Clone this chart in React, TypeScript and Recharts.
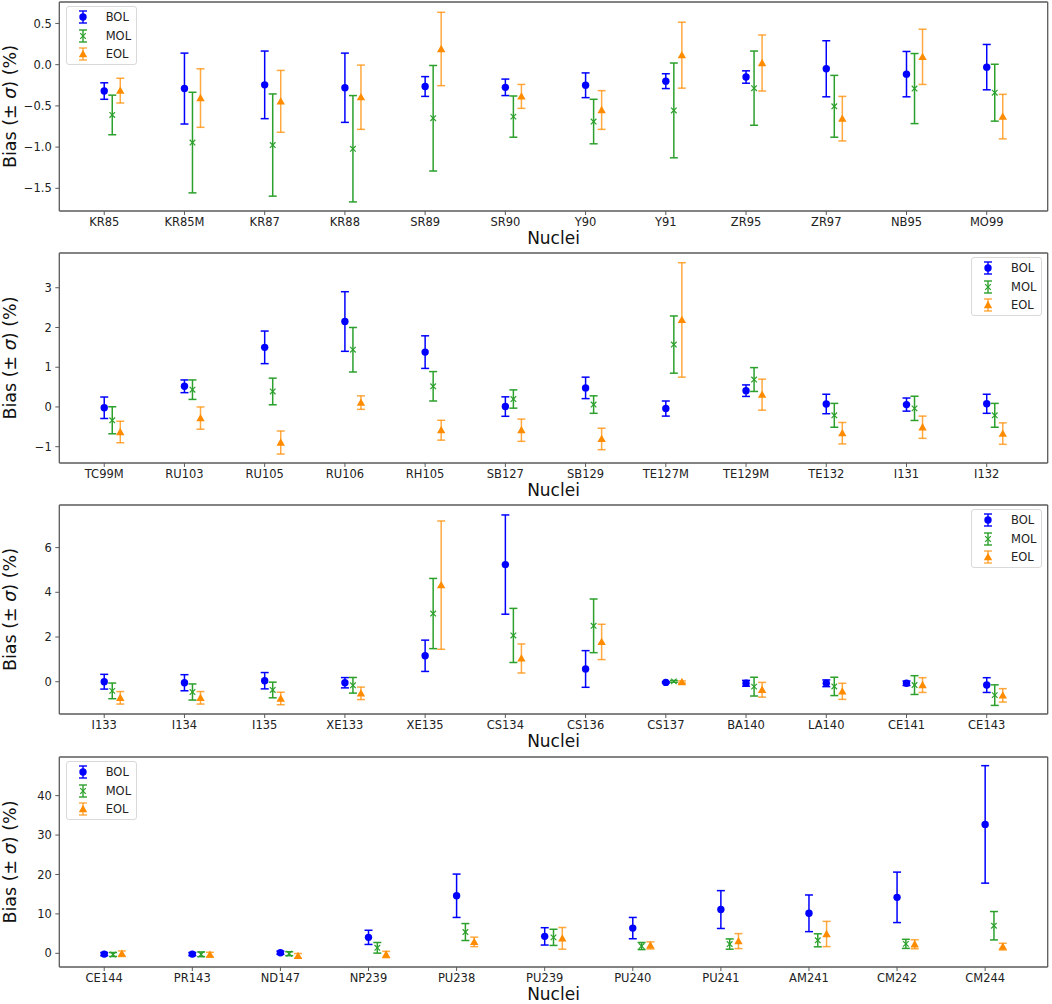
import React from 'react';
import { ScatterChart, Scatter, XAxis, YAxis, ErrorBar, ReferenceLine, Label } from 'recharts';

const FONT = '"DejaVu Sans", Verdana, sans-serif';
const BLUE = '#0000ff';
const GREEN = '#2ca02c';
const ORANGE = '#ff8c00';
const FRAME = '#5a5a5a';

// panel 1
const names1 = ['KR85', 'KR85M', 'KR87', 'KR88', 'SR89', 'SR90', 'Y90', 'Y91', 'ZR95', 'ZR97', 'NB95', 'MO99'];
const bol1 = [-0.32, -0.29, -0.245, -0.28, -0.265, -0.275, -0.25, -0.2, -0.15, -0.05, -0.115, -0.03];
const bolErr1 = [0.1, 0.43, 0.41, 0.42, 0.12, 0.1, 0.15, 0.09, 0.075, 0.34, 0.275, 0.275];
const mol1 = [-0.61, -0.945, -0.975, -1.02, -0.65, -0.63, -0.69, -0.555, -0.285, -0.505, -0.29, -0.34];
const molErr1 = [0.24, 0.61, 0.62, 0.645, 0.64, 0.25, 0.27, 0.575, 0.45, 0.375, 0.425, 0.345];
const eol1 = [-0.315, -0.405, -0.445, -0.395, 0.19, -0.385, -0.55, 0.115, 0.02, -0.655, 0.095, -0.63];
const eolErr1 = [0.15, 0.355, 0.375, 0.39, 0.445, 0.145, 0.235, 0.4, 0.34, 0.27, 0.335, 0.27];
const yTicks1 = [-1.5, -1.0, -0.5, 0.0, 0.5];

// panel 2
const names2 = ['TC99M', 'RU103', 'RU105', 'RU106', 'RH105', 'SB127', 'SB129', 'TE127M', 'TE129M', 'TE132', 'I131', 'I132'];
const bol2 = [-0.02, 0.52, 1.5, 2.15, 1.38, 0.01, 0.48, -0.04, 0.41, 0.075, 0.06, 0.08];
const bolErr2 = [0.27, 0.16, 0.41, 0.75, 0.41, 0.245, 0.27, 0.19, 0.145, 0.245, 0.165, 0.24];
const mol2 = [-0.335, 0.435, 0.39, 1.44, 0.52, 0.2, 0.06, 1.57, 0.69, -0.21, -0.035, -0.21];
const molErr2 = [0.34, 0.245, 0.335, 0.56, 0.37, 0.23, 0.22, 0.72, 0.3, 0.3, 0.305, 0.3];
const eol2 = [-0.63, -0.28, -0.895, 0.11, -0.585, -0.585, -0.805, 2.19, 0.31, -0.66, -0.51, -0.67];
const eolErr2 = [0.27, 0.28, 0.29, 0.17, 0.25, 0.28, 0.27, 1.44, 0.39, 0.27, 0.28, 0.27];
const yTicks2 = [-1, 0, 1, 2, 3];

// panel 3
const names3 = ['I133', 'I134', 'I135', 'XE133', 'XE135', 'CS134', 'CS136', 'CS137', 'BA140', 'LA140', 'CE141', 'CE143'];
const bol3 = [0.0, -0.045, 0.045, -0.045, 1.16, 5.24, 0.57, -0.03, -0.07, -0.07, -0.07, -0.15];
const bolErr3 = [0.33, 0.36, 0.365, 0.23, 0.7, 2.22, 0.82, 0.03, 0.13, 0.15, 0.1, 0.33];
const mol3 = [-0.41, -0.46, -0.37, -0.16, 3.05, 2.07, 2.5, 0.015, -0.22, -0.21, -0.15, -0.6];
const molErr3 = [0.35, 0.36, 0.35, 0.35, 1.57, 1.21, 1.2, 0.04, 0.42, 0.41, 0.42, 0.46];
const eol3 = [-0.72, -0.72, -0.75, -0.52, 4.32, 1.04, 1.78, -0.015, -0.36, -0.43, -0.15, -0.61];
const eolErr3 = [0.28, 0.28, 0.28, 0.28, 2.87, 0.65, 0.79, 0.05, 0.33, 0.36, 0.33, 0.3];
const yTicks3 = [0, 2, 4, 6];

// panel 4
const names4 = ['CE144', 'PR143', 'ND147', 'NP239', 'PU238', 'PU239', 'PU240', 'PU241', 'AM241', 'CM242', 'CM244'];
const bol4 = [-0.2, -0.2, 0.15, 4.05, 14.6, 4.3, 6.4, 11.1, 10.15, 14.2, 32.7];
const bolErr4 = [0.4, 0.4, 0.4, 1.8, 5.5, 2.2, 2.7, 4.8, 4.65, 6.4, 14.9];
const mol4 = [-0.3, -0.25, -0.1, 1.4, 5.4, 4.05, 1.85, 2.35, 3.3, 2.4, 7.0];
const molErr4 = [0.5, 0.6, 0.5, 1.35, 2.15, 2.05, 0.9, 1.3, 1.65, 1.15, 3.6];
const eol4 = [-0.1, -0.35, -0.65, -0.3, 2.9, 3.8, 2.0, 3.1, 4.9, 2.3, 1.7];
const eolErr4 = [0.7, 0.6, 0.6, 0.8, 1.2, 2.75, 0.9, 1.9, 3.2, 1.15, 0.85];
const yTicks4 = [0, 10, 20, 30, 40];

const seriesNames = ['BOL', 'MOL', 'EOL'];

const panels = [
  { top: 2, h: 209, names: names1, vals: [bol1, mol1, eol1], errs: [bolErr1, molErr1, eolErr1], yDomain: [-1.775, 0.76], yTicks: yTicks1, dec: 1, legend: 'left' },
  { top: 253, h: 210, names: names2, vals: [bol2, mol2, eol2], errs: [bolErr2, molErr2, eolErr2], yDomain: [-1.41, 3.874], yTicks: yTicks2, dec: 0, legend: 'right' },
  { top: 505, h: 209, names: names3, vals: [bol3, mol3, eol3], errs: [bolErr3, molErr3, eolErr3], yDomain: [-1.444, 7.905], yTicks: yTicks3, dec: 0, legend: 'right' },
  { top: 757, h: 210, names: names4, vals: [bol4, mol4, eol4], errs: [bolErr4, molErr4, eolErr4], yDomain: [-3.47, 49.8], yTicks: yTicks4, dec: 0, legend: 'left' },
];

const OFFSETS = [0, 0.1, 0.2];
const LEFT = 59.3;
const RIGHT = 1047.7;
const AXIS_H = 39;

const fmt = (v: number, d: number) => (v < 0 ? '\u2212' + Math.abs(v).toFixed(d) : v.toFixed(d));

function Circle({ cx, cy }: any) {
  return <circle cx={cx} cy={cy} r={3.7} fill={BLUE} />;
}
function Cross({ cx, cy }: any) {
  const s = 2.8;
  return (
    <g stroke={GREEN} strokeWidth={1.2}>
      <line x1={cx - s} y1={cy - s} x2={cx + s} y2={cy + s} />
      <line x1={cx - s} y1={cy + s} x2={cx + s} y2={cy - s} />
    </g>
  );
}
function Tri({ cx, cy }: any) {
  const s = 4.2;
  return <polygon points={`${cx},${cy - s} ${cx - s},${cy + s * 0.75} ${cx + s},${cy + s * 0.75}`} fill={ORANGE} />;
}

const shapes = [Circle, Cross, Tri];
const colors = [BLUE, GREEN, ORANGE];
const barOpacity = [1, 1, 0.75];

function LegendBox({ side, top }: { side: string; top: number }) {
  const style: React.CSSProperties = {
    position: 'absolute',
    top: top + 6,
    width: 71,
    height: 59,
    border: '1px solid #d9d9d9',
    borderRadius: 3,
    background: 'rgba(255,255,255,0.85)',
    fontFamily: FONT,
    fontSize: 11.5,
    color: '#222',
    boxSizing: 'border-box',
  };
  if (side === 'left') style.left = 65.7;
  else style.left = 971;
  return (
    <div style={style}>
      {seriesNames.map((n, i) => {
        const Shape = shapes[i];
        return (
          <div key={n} style={{ position: 'absolute', left: 0, top: 2 + i * 18.5, height: 16, width: 70 }}>
            <svg width={30} height={16} style={{ position: 'absolute', left: 3, top: 0 }}>
              <g stroke={colors[i]} strokeWidth={1.4} strokeOpacity={barOpacity[i]}>
                <line x1={13} y1={2} x2={13} y2={14} />
                <line x1={9} y1={2} x2={17} y2={2} />
                <line x1={9} y1={14} x2={17} y2={14} />
              </g>
              <Shape cx={13} cy={8} />
            </svg>
            <span style={{ position: 'absolute', left: 39, top: 1, lineHeight: '14px' }}>{n}</span>
          </div>
        );
      })}
    </div>
  );
}

function yLabel(props: any) {
  const vb = props.viewBox || { y: 0, height: 0 };
  const cy = vb.y + vb.height / 2;
  const x = 16;
  return (
    <text x={x} y={cy} transform={`rotate(-90, ${x}, ${cy})`} textAnchor="middle" fontSize={17.5} fontFamily={FONT} fill="#111">
      Bias (± <tspan fontStyle="italic">σ</tspan>) (%)
    </text>
  );
}

function xLabel(props: any) {
  const vb = props.viewBox || { x: 0, y: 0, width: 0 };
  return (
    <text x={vb.x + vb.width / 2} y={vb.y + 33} textAnchor="middle" fontSize={17} fontFamily={FONT} fill="#111">
      Nuclei
    </text>
  );
}

function Panel({ p }: { p: (typeof panels)[number] }) {
  const n = p.names.length;
  const maxX = n - 1 + 0.2;
  const pad = maxX * 0.05;
  const xDomain = [-pad, maxX + pad];
  const xTicks = p.names.map((_, i) => i);
  const tickStyle = { fontSize: 11.5, fill: '#222', fontFamily: FONT };
  return (
    <div style={{ position: 'absolute', left: 0, top: p.top - 2 }}>
      <ScatterChart width={1052} height={p.h + AXIS_H + 2} margin={{ top: 2, right: 1052 - RIGHT, bottom: 0, left: 0 }}>
        <XAxis
          type="number"
          dataKey="x"
          domain={xDomain}
          allowDataOverflow
          ticks={xTicks}
          interval={0}
          tickFormatter={(v: number) => p.names[v] ?? ''}
          height={AXIS_H}
          tickSize={4}
          tickMargin={3}
          tick={tickStyle}
          axisLine={{ stroke: FRAME, strokeWidth: 1.3 }}
          tickLine={{ stroke: FRAME }}
        >
          <Label content={xLabel} />
        </XAxis>
        <YAxis
          type="number"
          dataKey="y"
          domain={p.yDomain}
          allowDataOverflow
          ticks={p.yTicks}
          interval={0}
          tickFormatter={(v: number) => fmt(v, p.dec)}
          width={LEFT}
          tickSize={4}
          tickMargin={3.5}
          tick={tickStyle}
          axisLine={{ stroke: FRAME, strokeWidth: 1.3 }}
          tickLine={{ stroke: FRAME }}
        >
          <Label content={yLabel} />
        </YAxis>
        <ReferenceLine y={p.yDomain[1]} stroke={FRAME} strokeWidth={1.3} />
        <ReferenceLine x={xDomain[1]} stroke={FRAME} strokeWidth={1.3} />
        {seriesNames.map((s, k) => {
          const data = p.names.map((_, i) => ({ x: i + OFFSETS[k], y: p.vals[k][i], e: p.errs[k][i] }));
          const Shape = shapes[k];
          return (
            <Scatter key={s} name={s} data={data} isAnimationActive={false} shape={(props: any) => <Shape cx={props.cx} cy={props.cy} />}>
              <ErrorBar dataKey="e" direction="y" width={4} stroke={colors[k]} strokeWidth={1.5} strokeOpacity={barOpacity[k]} isAnimationActive={false} />
            </Scatter>
          );
        })}
      </ScatterChart>
      <LegendBox side={p.legend} top={0} />
    </div>
  );
}

export default function App() {
  return (
    <div style={{ position: 'absolute', left: 0, top: 0, width: 1052, height: 1004, background: '#fff', overflow: 'hidden' }}>
      {panels.map((p, i) => (
        <Panel key={i} p={p} />
      ))}
    </div>
  );
}
